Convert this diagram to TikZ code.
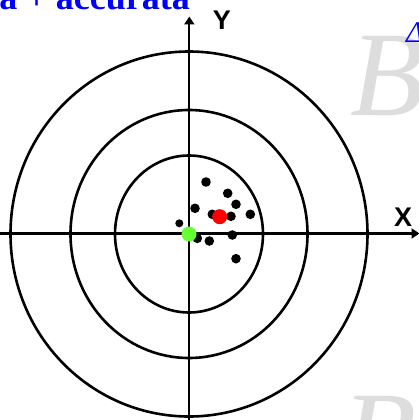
\documentclass[tikz,border=0pt]{standalone}
\usepackage{fontspec}
\setmainfont{Liberation Serif}
\setsansfont{Liberation Sans}
\usetikzlibrary{arrows.meta}
\definecolor{ghost}{RGB}{221,221,221}
\definecolor{shotgreen}{RGB}{102,255,51}
\tikzset{
  ring/.style={line width=2.6pt},
  axis/.style={line width=2.2pt,-{Triangle[length=8pt,width=10pt]}},
  shot/.style={circle,fill=black,inner sep=0pt,minimum size=9.6pt},
  bigshot/.style={circle,inner sep=0pt,minimum size=15pt},
  axlabel/.style={font=\sffamily\bfseries\fontsize{27}{30}\selectfont,inner sep=0pt},
  ghostB/.style={font=\itshape\fontsize{121}{130}\selectfont,text=ghost,inner sep=0pt,anchor=base west}
}
\begin{document}
\begin{tikzpicture}[x=1pt,y=-1pt]
\useasboundingbox (0,0) rectangle (419,420);
\clip (0,0) rectangle (419,420);
\fill[white] (0,0) rectangle (419,420);
% background letters
\node[ghostB] (b1) at (350,115) {B};
\node[ghostB] (b2) at (342,475) {B};
\node[font=\itshape\fontsize{30}{32}\selectfont,text=blue,inner sep=0pt,anchor=base west] (delta) at (406,43) {Δ};
\node[font=\bfseries\fontsize{36}{40}\selectfont,text=blue,inner sep=0pt,anchor=base east] (title) at (190,10) {a + accurata};
% target rings
\coordinate (c) at (189,234);
\draw[ring] (c) ellipse [x radius=178.5, y radius=182.5];
\draw[ring] (c) ellipse [x radius=118.5, y radius=124];
\draw[ring] (c) ellipse [x radius=74, y radius=78.5];
% axes
\coordinate (xs) at (0,233.5);
\coordinate (xe) at (419.5,233.5);
\coordinate (ys) at (189.3,421);
\coordinate (ye) at (189.3,16.5);
\draw[axis] (xs) -- (xe);
\draw[axis] (ys) -- (ye);
\node[axlabel] (ylab) at (222,20) {Y};
\node[axlabel] (xlab) at (403,217) {X};
% shots
\node[shot] (d1) at (206,182) {};
\node[shot] (d2) at (227.7,193.3) {};
\node[shot] (d3) at (236,204.3) {};
\node[shot] (d4) at (195,208.3) {};
\node[shot] (d5) at (212.3,214.3) {};
\node[shot] (d6) at (231,216.3) {};
\node[shot] (d7) at (250.3,214.3) {};
\node[shot,minimum size=8pt] (d8) at (179.3,223.3) {};
\node[shot] (d9) at (197.3,238.3) {};
\node[shot] (d10) at (209.3,241) {};
\node[shot] (d11) at (232.3,235) {};
\node[shot] (d12) at (236,258.7) {};
\node[bigshot,fill=red] (mean) at (219.7,216.7) {};
\node[bigshot,fill=shotgreen] (origin) at (189,234) {};
\end{tikzpicture}
\end{document}
